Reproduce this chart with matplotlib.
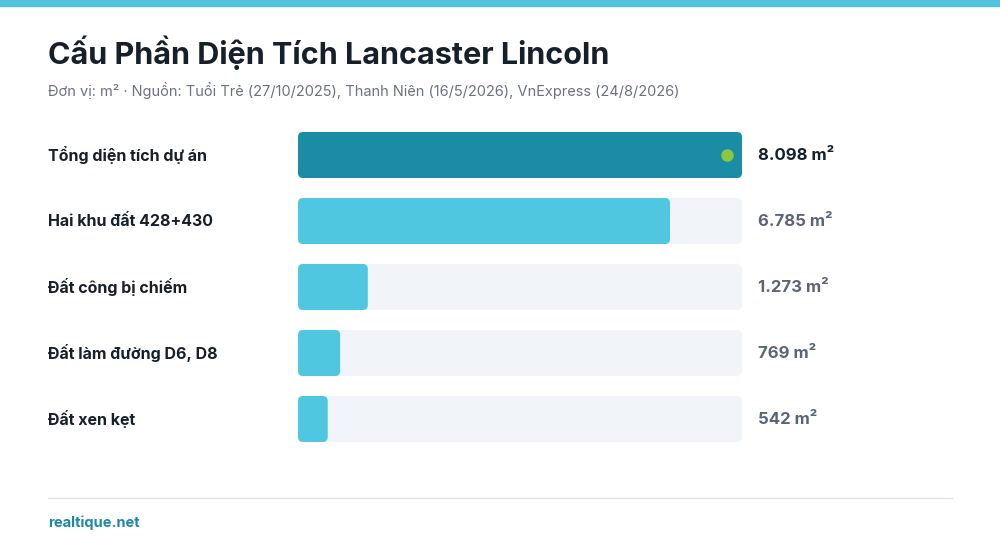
import matplotlib.pyplot as plt
from matplotlib.patches import FancyBboxPatch, Rectangle

labels = ["Tổng diện tích dự án", "Hai khu đất 428+430", "Đất công bị chiếm",
          "Đất làm đường D6, D8", "Đất xen kẹt"]
values = [8098, 6785, 1273, 769, 542]
value_text = ["8.098 m²", "6.785 m²", "1.273 m²", "769 m²", "542 m²"]

plt.rcParams['font.family'] = ['Inter', 'DejaVu Sans']
fig = plt.figure(figsize=(10, 5.52), dpi=100)
W, H = 1000, 552

def fy(py):
    return 1 - py / H

fig.patches.append(Rectangle((0, fy(6)), 1, 6 / H, transform=fig.transFigure,
                             color="#4fc3dc", zorder=0))
fig.text(48 / W, fy(53), "Cấu Phần Diện Tích Lancaster Lincoln", fontsize=22,
         fontweight="bold", color="#15202b", va="center")
fig.text(48 / W, fy(91), "Đơn vị: m² · Nguồn: Tuổi Trẻ (27/10/2025), Thanh Niên (16/5/2026), VnExpress (24/8/2026)",
         fontsize=10.5, color="#6b7280", va="center")

vmax = max(values)
n = len(values)
hb = 46 / 66
ax = fig.add_axes([298 / W, fy(442), 444 / W, 310 / H])
ax.set_xlim(0, vmax)
ax.set_ylim(n - 1 + hb / 2, -hb / 2)
ax.axis("off")
rx = 5 * vmax / 444
asp = (1 / 66) / (vmax / 444)
for i, v in enumerate(values):
    ax.add_patch(FancyBboxPatch((0, i - hb / 2), vmax, hb,
                                boxstyle=f"round,pad=0,rounding_size={rx}",
                                mutation_aspect=asp, color="#f1f5f9", lw=0))
    ax.add_patch(FancyBboxPatch((0, i - hb / 2), v, hb,
                                boxstyle=f"round,pad=0,rounding_size={rx}",
                                mutation_aspect=asp,
                                color="#1b8ca6" if i == 0 else "#4fc7e0", lw=0))
    cy = 155 + 66 * i
    fig.text(48 / W, fy(cy), labels[i], fontsize=11.5, fontweight="bold",
             color="#15202b", va="center")
    fig.text(758 / W, fy(cy), value_text[i], fontsize=12, fontweight="bold",
             color="#15202b" if i == 0 else "#5a6478", va="center")
ax.plot([values[0] - 15 * vmax / 444], [0], "o", color="#8dc63f", ms=8)

fig.add_artist(plt.Line2D([48 / W, 952 / W], [fy(498), fy(498)],
                          color="#dde3ea", lw=1))
fig.text(48 / W, fy(523), "realtique.net", fontsize=10.5, fontweight="bold",
         color="#1b8aa5", va="center")
fig.savefig("out.png", dpi=100)
